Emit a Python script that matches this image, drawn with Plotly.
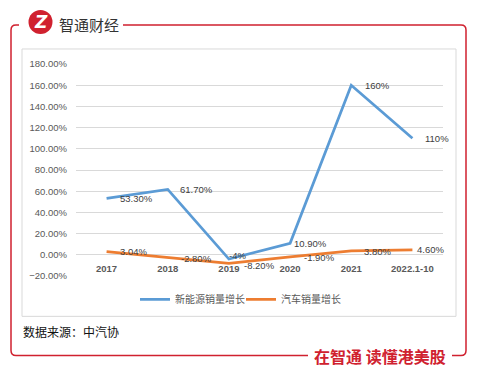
import plotly.graph_objects as go

# ---- data ----
categories = ["2017", "2018", "2019", "2020", "2021", "2022.1-10"]
nev_growth = [53.3, 61.7, -4, 10.9, 160, 110]
car_growth = [3.04, -2.8, -8.2, -1.9, 3.8, 4.6]
nev_labels = ["53.30%", "61.70%", "-4%", "10.90%", "160%", "110%"]
car_labels = ["3.04%", "-2.80%", "-8.20%", "-1.90%", "3.80%", "4.60%"]
series_names = ["新能源销量增长", "汽车销量增长"]

# label offsets (px)
nev_shift = [(11, 0), (10, 0), (-2, 4), (2, 0), (12, 0), (11, 0)]
car_shift = [(11, 0), (11, -1), (13, -2), (12, -1), (11, -1), (3, 0)]

W, H = 477, 373
L, R, T, B = 76, 443, 64, 275.7


def px(x):
    return (x - L) / (R - L)


def py(y):
    return (B - y) / (B - T)


BLUE = "#5b9bd5"
ORANGE = "#ed7d31"
RED = "#d0212f"
GRID = "#d9d9d9"

fig = go.Figure()
fig.add_trace(go.Scatter(x=categories, y=nev_growth, mode="lines", name=series_names[0],
                         line=dict(color=BLUE, width=2.75)))
fig.add_trace(go.Scatter(x=categories, y=car_growth, mode="lines", name=series_names[1],
                         line=dict(color=ORANGE, width=2.75)))

ann = []
for vals, labs, shifts in ((nev_growth, nev_labels, nev_shift), (car_growth, car_labels, car_shift)):
    for i, (v, t, (dx, dy)) in enumerate(zip(vals, labs, shifts)):
        ann.append(dict(x=i, y=v, xref="x", yref="y", text=t, showarrow=False,
                        xanchor="left", yanchor="middle", xshift=dx, yshift=dy,
                        font=dict(family="Liberation Sans", size=9.5, color="#404040")))

# header / footer texts
ann.append(dict(x=px(57), y=py(25), xref="paper", yref="paper", text="智通财经", showarrow=False,
                xanchor="left", yanchor="middle",
                font=dict(family="Noto Sans CJK SC", size=15, color="#333333")))
ann.append(dict(x=px(40.5), y=py(22), xref="paper", yref="paper", text="<b><i>Z</i></b>", showarrow=False,
                xanchor="center", yanchor="middle",
                font=dict(family="DejaVu Sans", size=17, color="white")))
ann.append(dict(x=px(312), y=py(356), xref="paper", yref="paper", text="<b>在智通 读懂港美股</b>",
                showarrow=False, xanchor="left", yanchor="middle",
                font=dict(family="Noto Sans CJK SC", size=16, color=RED)))
ann.append(dict(x=px(21), y=py(331), xref="paper", yref="paper", text="数据来源：中汽协",
                showarrow=False, xanchor="left", yanchor="middle",
                font=dict(family="Noto Sans CJK SC", size=12, color="#111111")))

shapes = []
# chart frame
shapes.append(dict(type="rect", xref="paper", yref="paper", x0=px(22), x1=px(456), y0=py(49), y1=py(316),
                   line=dict(color=GRID, width=1), layer="below"))
# red frame
p1 = (f"M{px(19)},{py(25)} L{px(16)},{py(25)} Q{px(11)},{py(25)} {px(11)},{py(30)} "
      f"L{px(11)},{py(350)} Q{px(11)},{py(355)} {px(16)},{py(355)} L{px(308)},{py(355)}")
p2 = (f"M{px(452)},{py(355)} L{px(461)},{py(355)} Q{px(466)},{py(355)} {px(466)},{py(350)} "
      f"L{px(466)},{py(30)} Q{px(466)},{py(25)} {px(461)},{py(25)} L{px(123)},{py(25)}")
for p in (p1, p2):
    shapes.append(dict(type="path", xref="paper", yref="paper", path=p,
                       line=dict(color=RED, width=1.5)))
# logo circle
shapes.append(dict(type="circle", xref="paper", yref="paper", x0=px(28.5), x1=px(52.5), y0=py(34), y1=py(10),
                   fillcolor=RED, line=dict(width=0)))

fig.update_layout(
    width=W, height=H,
    margin=dict(l=L, r=W - R, t=T, b=H - B),
    paper_bgcolor="white", plot_bgcolor="white",
    showlegend=True,
    legend=dict(orientation="h", x=px(241), xanchor="center", y=py(299), yanchor="middle",
                font=dict(family="Noto Sans CJK SC", size=10, color="#595959"),
                itemwidth=30, entrywidth=61, tracegroupgap=0, bgcolor="rgba(0,0,0,0)"),
    xaxis=dict(type="category", categoryorder="array", categoryarray=categories,
               range=[-0.5, 5.5], anchor="free", position=0.1,
               showgrid=False, showline=False, zeroline=False, ticks="",
               tickfont=dict(family="Liberation Sans", size=9.5, color="#595959", weight="bold"),
               ticklabelstandoff=7),
    yaxis=dict(range=[-20, 180], dtick=20, tick0=0, tickformat=".2f", ticksuffix="%",
               showgrid=True, gridcolor=GRID, gridwidth=1, zeroline=False, showline=False,
               tickfont=dict(family="Liberation Sans", size=9.5, color="#595959"),
               ticklabelstandoff=8),
    annotations=ann,
    shapes=shapes,
)

fig.write_html("out.html", config={"displayModeBar": False},
               post_script="document.body.style.margin='0';")
